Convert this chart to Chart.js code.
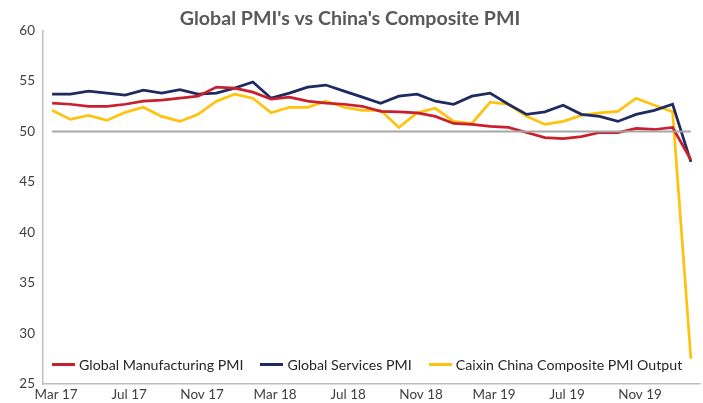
<!DOCTYPE html>
<html>
<head>
<meta charset="utf-8">
<script src="https://cdn.jsdelivr.net/npm/chart.js@4/dist/chart.umd.min.js"></script>
<style>
  html, body { margin: 0; padding: 0; background: #fff; }
  #wrap { position: relative; width: 703px; height: 403px; }
  #legend {
    position: absolute; left: 52px; top: 356px; width: 650px;
    display: flex; align-items: center; white-space: nowrap;
    font-family: Lato, sans-serif; font-size: 14.2px; color: #262626;
  }
  .item { display: flex; align-items: center; margin-right: 17px; flex: none; }
  .swatch { width: 23px; height: 3px; margin-right: 4px; }
</style>
</head>
<body>
<div id="wrap">
  <canvas id="pmiChart" width="703" height="403"></canvas>
  <div id="legend"></div>
</div>
<script>
// Monthly PMI readings, Mar 2017 - Feb 2020
const months = [
  'Mar 17', 'Apr 17', 'May 17', 'Jun 17', 'Jul 17', 'Aug 17', 'Sep 17', 'Oct 17', 'Nov 17', 'Dec 17',
  'Jan 18', 'Feb 18', 'Mar 18', 'Apr 18', 'May 18', 'Jun 18', 'Jul 18', 'Aug 18', 'Sep 18', 'Oct 18',
  'Nov 18', 'Dec 18', 'Jan 19', 'Feb 19', 'Mar 19', 'Apr 19', 'May 19', 'Jun 19', 'Jul 19', 'Aug 19',
  'Sep 19', 'Oct 19', 'Nov 19', 'Dec 19', 'Jan 20', 'Feb 20'
];

const manufacturing = [
  52.8, 52.7, 52.5, 52.5, 52.7, 53.0, 53.1, 53.3, 53.5, 54.4,
  54.3, 53.9, 53.2, 53.4, 53.0, 52.8, 52.7, 52.5, 52.0, 51.95,
  51.85, 51.5, 50.8, 50.7, 50.5, 50.4, 49.9, 49.4, 49.3, 49.5,
  49.9, 49.9, 50.3, 50.2, 50.4, 47.2
];

const services = [
  53.7, 53.7, 54.0, 53.8, 53.6, 54.1, 53.8, 54.15, 53.7, 53.8,
  54.3, 54.9, 53.3, 53.8, 54.4, 54.6, 54.0, 53.4, 52.8, 53.5,
  53.7, 53.0, 52.7, 53.5, 53.8, 52.7, 51.7, 51.95, 52.6, 51.7,
  51.5, 51.0, 51.7, 52.1, 52.7, 47.0
];

const caixin = [
  52.1, 51.2, 51.6, 51.1, 51.9, 52.4, 51.5, 51.0, 51.7, 53.0,
  53.7, 53.3, 51.85, 52.4, 52.4, 53.0, 52.4, 52.1, 52.1, 50.4,
  51.85, 52.3, 51.0, 50.8, 52.9, 52.7, 51.5, 50.7, 51.0, 51.6,
  51.85, 52.0, 53.3, 52.6, 51.95, 27.5
];

const threshold = 50;

const seriesNames = ['Global Manufacturing PMI', 'Global Services PMI', 'Caixin China Composite PMI Output'];
const seriesColors = ['#c8202f', '#1f2b5e', '#ffc20e'];

// grey 50 line, drawn across the span of the data points
const thresholdLine = {
  id: 'thresholdLine',
  afterDatasetsDraw(chart) {
    const { ctx, scales: { x, y } } = chart;
    const yPos = y.getPixelForValue(threshold);
    ctx.save();
    ctx.strokeStyle = '#a6a6a6';
    ctx.lineWidth = 2;
    ctx.beginPath();
    ctx.moveTo(x.getPixelForValue(0), yPos);
    ctx.lineTo(x.getPixelForValue(months.length - 1), yPos);
    ctx.stroke();
    ctx.restore();
  }
};

const ctx = document.getElementById('pmiChart').getContext('2d');
const chart = new Chart(ctx, {
  type: 'line',
  data: {
    labels: months,
    datasets: [manufacturing, services, caixin].map((d, i) => ({
      label: seriesNames[i],
      data: d,
      borderColor: seriesColors[i],
      backgroundColor: seriesColors[i],
      borderWidth: 2.75,
      pointRadius: 0,
      tension: 0
    }))
  },
  options: {
    responsive: false,
    animation: false,
    layout: { padding: { right: 3 } },
    plugins: {
      legend: { display: false },
      tooltip: { enabled: false },
      title: {
        display: true,
        text: "Global PMI's vs China's Composite PMI",
        color: '#595959',
        font: { family: 'Lato', size: 19.6, weight: 'bold' },
        padding: { top: 7, bottom: 0 }
      }
    },
    scales: {
      x: {
        offset: true,
        grid: { display: false, drawTicks: false },
        border: { color: '#bfbfbf', width: 1.5 },
        ticks: {
          autoSkip: false,
          maxRotation: 0,
          padding: 3,
          labelOffset: 4,
          color: '#404040',
          font: { family: 'Lato', size: 13.5 },
          callback: (v, i) => (i % 4 === 0 ? months[i] : '')
        },
        afterFit: (axis) => { axis.height = 19; }
      },
      y: {
        min: 25,
        max: 60,
        grid: { display: false, drawTicks: false },
        border: { color: '#bfbfbf', width: 1.5 },
        ticks: {
          stepSize: 5,
          padding: 8,
          color: '#404040',
          font: { family: 'Lato', size: 13.5 }
        },
        afterFit: (axis) => { axis.width = 43; }
      }
    }
  },
  plugins: [thresholdLine]
});

// legend laid over the bottom of the plot, like the original
const legend = document.getElementById('legend');
seriesNames.forEach((name, i) => {
  const item = document.createElement('div');
  item.className = 'item';
  item.innerHTML = '<span class="swatch" style="background:' + seriesColors[i] + '"></span><span>' + name + '</span>';
  legend.appendChild(item);
});
</script>
</body>
</html>
